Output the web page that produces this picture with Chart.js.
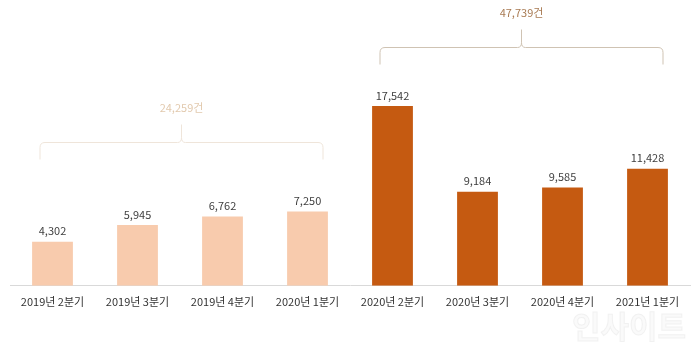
<!DOCTYPE html>
<html lang="ko">
<head>
<meta charset="utf-8">
<script src="https://cdn.jsdelivr.net/npm/chart.js@4.4.1/dist/chart.umd.min.js"></script>
<style>
  html, body { margin: 0; padding: 0; background: #fff; }
  #wrap { width: 700px; height: 349px; position: relative; }
</style>
</head>
<body>
<div id="wrap"><canvas id="quarterChart" width="700" height="349"></canvas></div>
<script>
// Quarterly counts
const quarters = ['2019년 2분기', '2019년 3분기', '2019년 4분기', '2020년 1분기',
                  '2020년 2분기', '2020년 3분기', '2020년 4분기', '2021년 1분기'];
const counts = [4302, 5945, 6762, 7250, 17542, 9184, 9585, 11428];

// Two periods, each bracketed with its total
const groupStart = [0, 4];
const groupEnd = [3, 7];

const FONT = '"Noto Sans CJK KR", "Noto Sans", sans-serif';
const lightBar = '#f8cbad';
const darkBar = '#c55a11';

const barColors = counts.map((v, i) => (i < 4 ? lightBar : darkBar));

// Value labels above bars
const valueLabels = {
    id: 'valueLabels',
    afterDatasetsDraw(chart) {
        const { ctx } = chart;
        const meta = chart.getDatasetMeta(0);
        ctx.save();
        ctx.font = '11px ' + FONT;
        ctx.fillStyle = '#404040';
        ctx.textAlign = 'center';
        ctx.textBaseline = 'bottom';
        meta.data.forEach((bar, i) => {
            ctx.fillText(counts[i].toLocaleString('en-US'), bar.x, bar.y - 5);
        });
        ctx.restore();
    }
};

// Curly braces over each period with the summed count
const groupBraces = {
    id: 'groupBraces',
    afterDatasetsDraw(chart, args, opts) {
        const { ctx } = chart;
        const x = chart.scales.x;
        const y = chart.scales.y;
        ctx.save();
        opts.groups.forEach((g, k) => {
            const total = counts.slice(groupStart[k], groupEnd[k] + 1).reduce((a, b) => a + b, 0);
            const x1 = x.getPixelForValue(groupStart[k]) - 12.5;
            const x2 = x.getPixelForValue(groupEnd[k]) + 15.5;
            const cx = (x1 + x2) / 2;
            const yl = Math.round(y.getPixelForValue(g.level)) + 0.5;
            const drop = 17, tip = 18, r = 5;

            ctx.strokeStyle = g.line;
            ctx.lineWidth = 1;
            ctx.beginPath();
            ctx.moveTo(x1, yl + drop);
            ctx.lineTo(x1, yl + r);
            ctx.quadraticCurveTo(x1, yl, x1 + r, yl);
            ctx.lineTo(cx - 4, yl);
            ctx.quadraticCurveTo(cx, yl, cx, yl - 5);
            ctx.lineTo(cx, yl - tip);
            ctx.moveTo(x2, yl + drop);
            ctx.lineTo(x2, yl + r);
            ctx.quadraticCurveTo(x2, yl, x2 - r, yl);
            ctx.lineTo(cx + 4, yl);
            ctx.quadraticCurveTo(cx, yl, cx, yl - 5);
            ctx.stroke();

            ctx.font = '11px ' + FONT;
            ctx.fillStyle = g.text;
            ctx.textAlign = 'center';
            ctx.textBaseline = 'middle';
            ctx.fillText(total.toLocaleString('en-US') + '건', cx, yl - tip - 17);
        });
        ctx.restore();
    }
};

// Faint site mark in the lower right corner
const siteMark = {
    id: 'siteMark',
    afterDraw(chart) {
        const { ctx } = chart;
        ctx.save();
        ctx.font = 'bold 31px ' + FONT;
        ctx.textAlign = 'right';
        ctx.textBaseline = 'middle';
        ctx.fillStyle = 'rgba(246,246,246,0.6)';
        ctx.strokeStyle = 'rgba(228,228,228,0.45)';
        ctx.lineWidth = 1;
        ctx.fillText('인사이트', 686, 326);
        ctx.strokeText('인사이트', 686, 326);
        ctx.restore();
    }
};

new Chart(document.getElementById('quarterChart'), {
    type: 'bar',
    data: {
        labels: quarters,
        datasets: [{
            data: counts,
            backgroundColor: barColors,
            borderWidth: 0,
            barPercentage: 0.48,
            categoryPercentage: 1
        }]
    },
    options: {
        responsive: false,
        animation: false,
        layout: { padding: { left: 10, right: 10, top: 0, bottom: 32 } },
        plugins: {
            legend: { display: false },
            tooltip: { enabled: false },
            groupBraces: {
                groups: [
                    { level: 14000, line: '#efe5da', text: '#e2c9ad' },
                    { level: 23300, line: '#cfc3b3', text: '#a87a52' }
                ]
            }
        },
        scales: {
            x: {
                grid: { display: false, drawTicks: false },
                border: { display: true, color: '#d9d9d9', width: 1 },
                ticks: {
                    color: '#333333',
                    padding: 9,
                    maxRotation: 0,
                    font: { family: FONT, size: 11 }
                }
            },
            y: {
                display: false,
                min: 0,
                max: 27900
            }
        }
    },
    plugins: [valueLabels, groupBraces, siteMark]
});
</script>
</body>
</html>
